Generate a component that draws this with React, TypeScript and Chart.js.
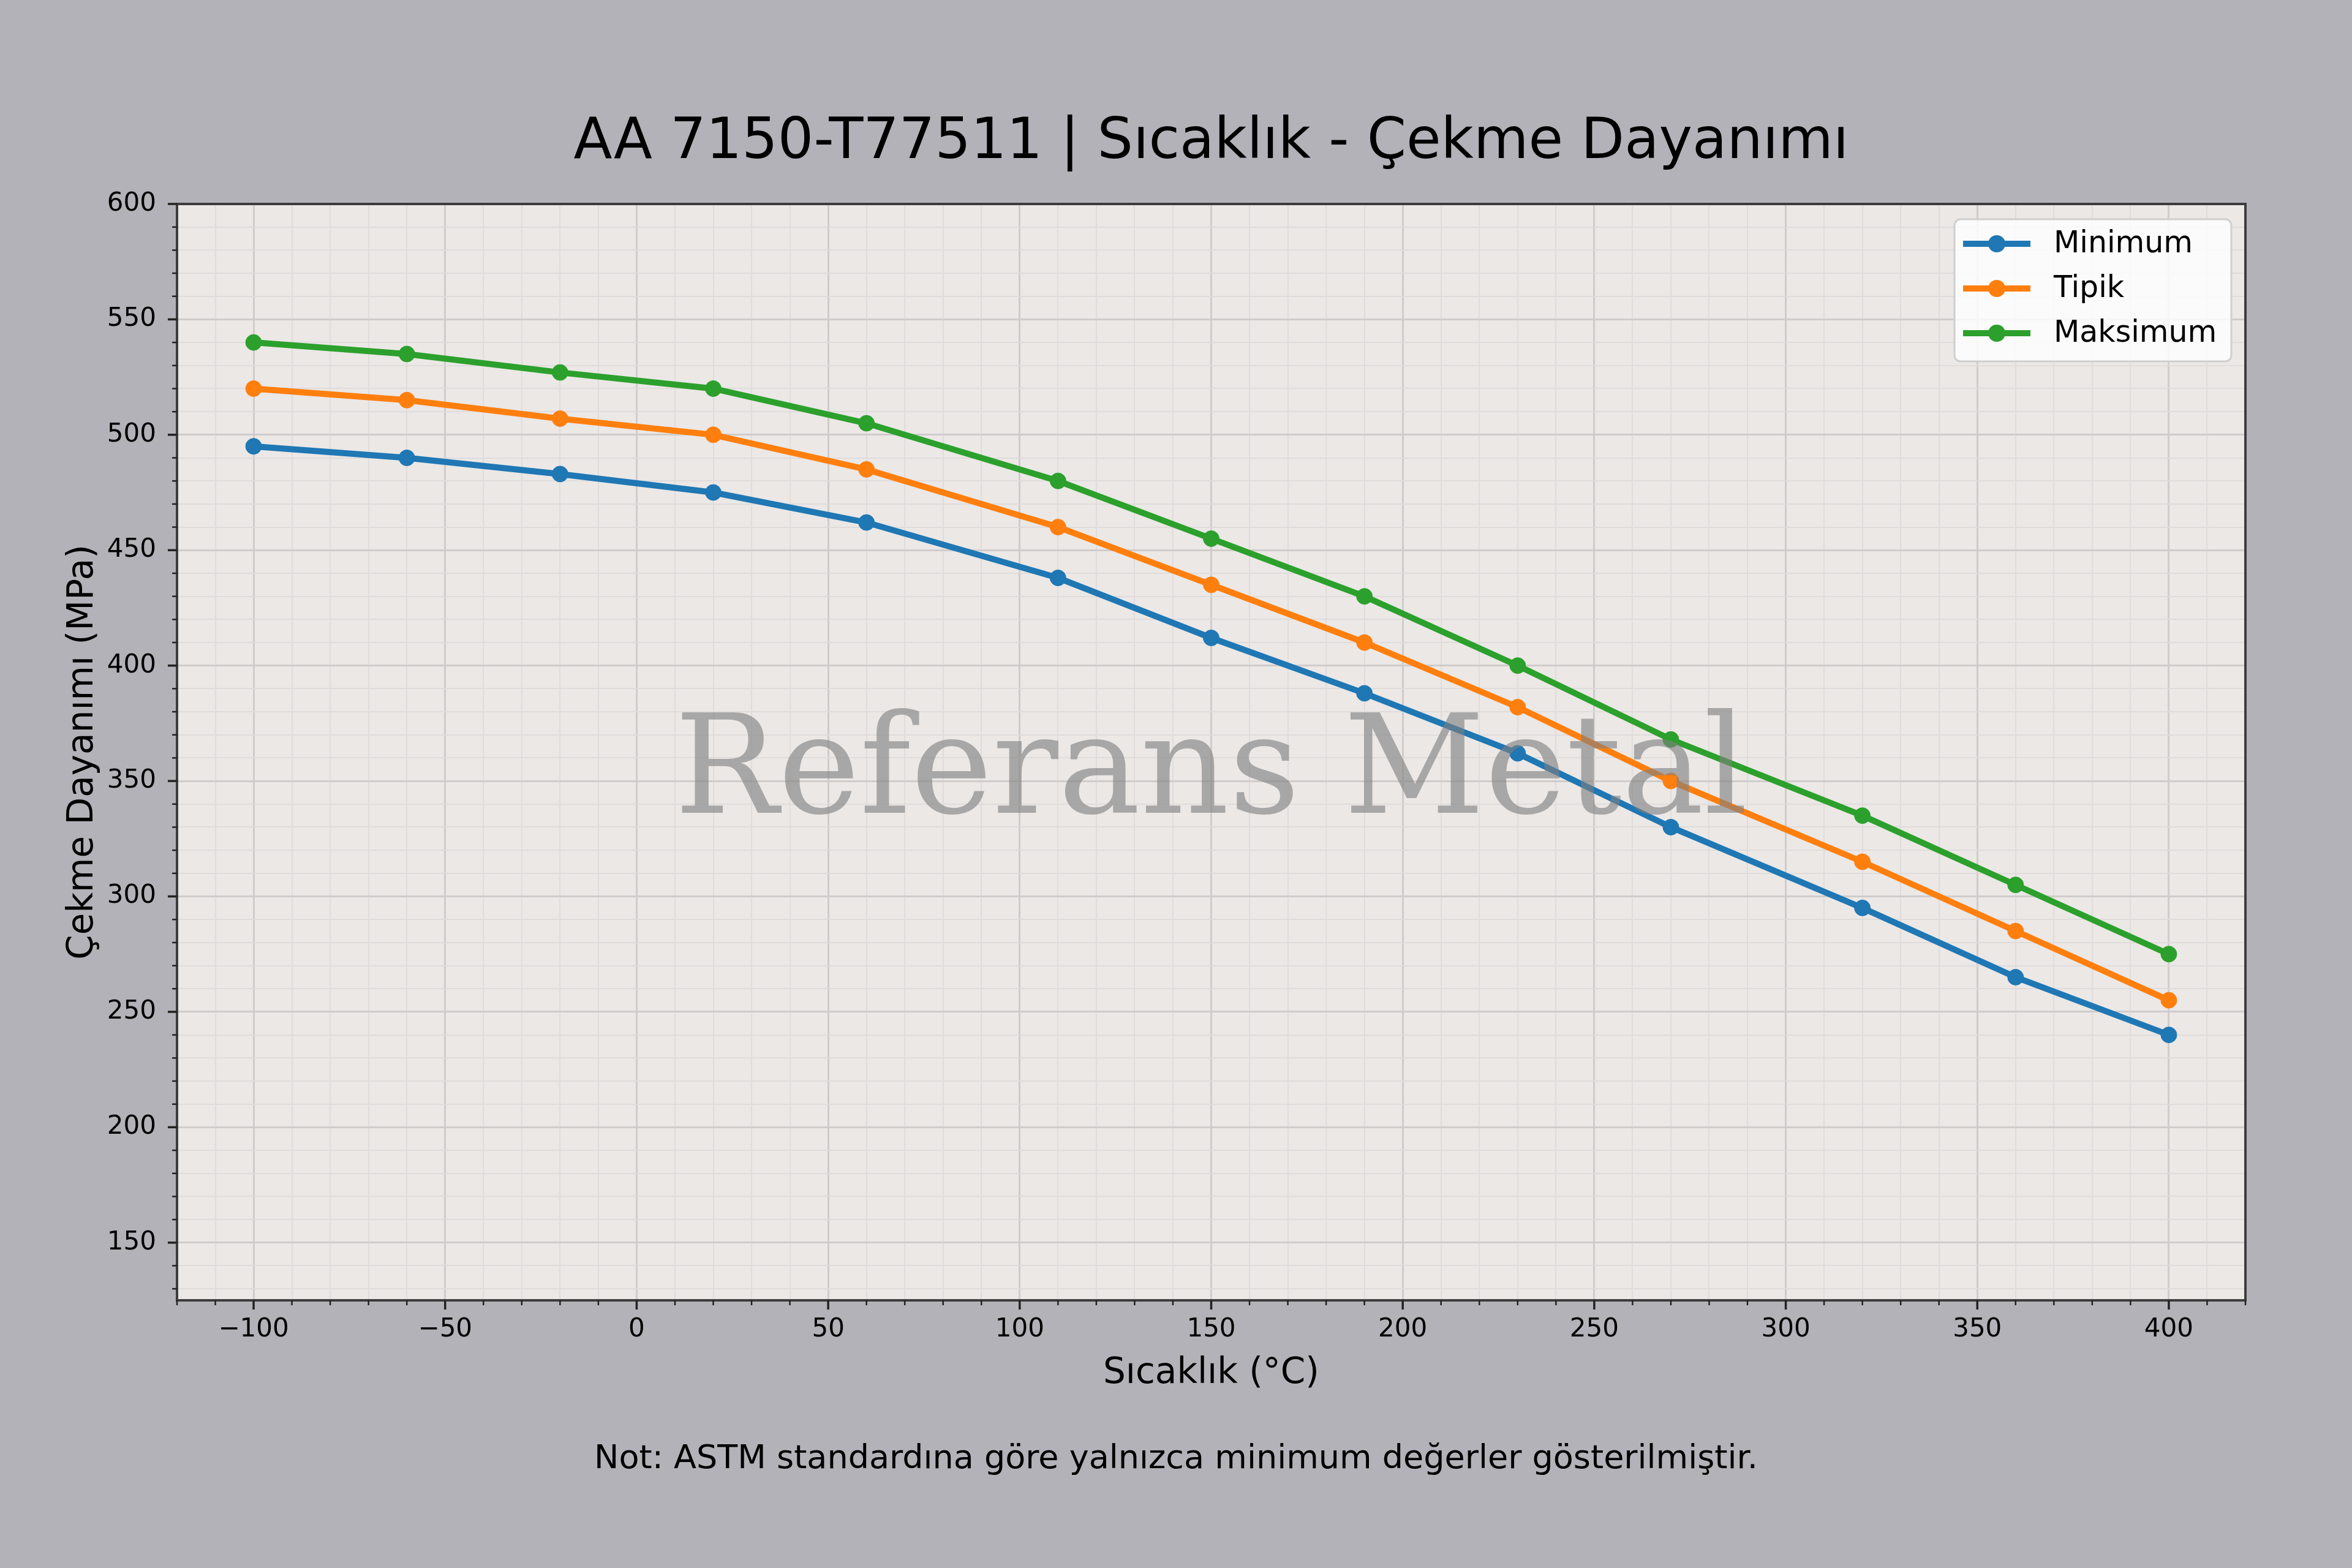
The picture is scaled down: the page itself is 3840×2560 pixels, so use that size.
import React, { useEffect, useRef } from 'react';
import { Chart, registerables } from 'chart.js';

Chart.register(...registerables);

// temperatures (°C) and tensile strength values (MPa)
const temperatures = [-100, -60, -20, 20, 60, 110, 150, 190, 230, 270, 320, 360, 400];
const minimumValues = [495, 490, 483, 475, 462, 438, 412, 388, 362, 330, 295, 265, 240];
const typicalValues = [520, 515, 507, 500, 485, 460, 435, 410, 382, 350, 315, 285, 255];
const maximumValues = [540, 535, 527, 520, 505, 480, 455, 430, 400, 368, 335, 305, 275];
const seriesLabels = ['Minimum', 'Tipik', 'Maksimum'];
const seriesColors = ['#1f77b4', '#ff7f0e', '#2ca02c'];

const chartTitle = 'AA 7150-T77511 | Sıcaklık - Çekme Dayanımı';
const xTitle = 'Sıcaklık (°C)';
const yTitle = 'Çekme Dayanımı (MPa)';
const footnote = 'Not: ASTM standardına göre yalnızca minimum değerler gösterilmiştir.';
const watermark = 'Referans Metal';

const FONT = '"DejaVu Sans", sans-serif';
const MAJOR_GRID = '#d0cccb';
const MINOR_GRID = '#e0dcdb';

const decorPlugin = {
   id: 'decor',
   beforeDraw(chart: any) {
      const { ctx, chartArea } = chart;
      ctx.save();
      ctx.fillStyle = '#b3b2b8';
      ctx.fillRect(0, 0, chart.width, chart.height);
      ctx.fillStyle = '#ebe8e6';
      ctx.fillRect(chartArea.left, chartArea.top, chartArea.right - chartArea.left, chartArea.bottom - chartArea.top);
      ctx.restore();
   },
   afterDatasetsDraw(chart: any) {
      const { ctx, chartArea } = chart;
      const { left, right, top, bottom } = chartArea;
      ctx.save();
      // watermark over the lines
      ctx.font = '225px "DejaVu Serif", serif';
      ctx.fillStyle = 'rgba(128,128,128,0.62)';
      ctx.textAlign = 'center';
      ctx.textBaseline = 'alphabetic';
      ctx.fillText(watermark, (left + right) / 2, 1327);

      // spines
      ctx.strokeStyle = '#3d3d3d';
      ctx.lineWidth = 4;
      ctx.strokeRect(left, top, right - left, bottom - top);

      // tick marks (major every 50, minor every 10)
      ctx.strokeStyle = '#222';
      const xs = chart.scales.x;
      xs.ticks.forEach((t: any) => {
         const px = xs.getPixelForValue(t.value);
         if (px < left - 1 || px > right + 1) return;
         const major = t.value % 50 === 0;
         ctx.lineWidth = major ? 3.5 : 2.5;
         ctx.beginPath();
         ctx.moveTo(px, bottom);
         ctx.lineTo(px, bottom + (major ? 15 : 8));
         ctx.stroke();
      });
      const ys = chart.scales.y;
      ys.ticks.forEach((t: any) => {
         const py = ys.getPixelForValue(t.value);
         if (py < top - 1 || py > bottom + 1) return;
         const major = t.value % 50 === 0;
         ctx.lineWidth = major ? 3.5 : 2.5;
         ctx.beginPath();
         ctx.moveTo(left, py);
         ctx.lineTo(left - (major ? 15 : 8), py);
         ctx.stroke();
      });
      ctx.restore();
   },
   afterDraw(chart: any) {
      const { ctx, chartArea } = chart;
      const cx = (chartArea.left + chartArea.right) / 2;
      const cy = (chartArea.top + chartArea.bottom) / 2;
      ctx.save();
      ctx.fillStyle = '#000';
      ctx.textAlign = 'center';
      ctx.textBaseline = 'alphabetic';

      ctx.font = `92px ${FONT}`;
      ctx.fillText(chartTitle, cx, 258);

      ctx.font = `58px ${FONT}`;
      ctx.fillText(xTitle, cx, 2258);

      ctx.save();
      ctx.translate(151, cy);
      ctx.rotate(-Math.PI / 2);
      ctx.fillText(yTitle, 0, 0);
      ctx.restore();

      ctx.font = `54px ${FONT}`;
      ctx.fillText(footnote, chart.width / 2, 2397);

      // legend
      const box = { x: 3191, y: 358, w: 452, h: 232 };
      ctx.beginPath();
      ctx.roundRect(box.x, box.y, box.w, box.h, 10);
      ctx.fillStyle = 'rgba(255,255,255,0.82)';
      ctx.fill();
      ctx.strokeStyle = '#cfcfcf';
      ctx.lineWidth = 3;
      ctx.stroke();

      const rows = [398, 471, 544];
      chart.data.datasets.forEach((ds: any, i: number) => {
         const y = rows[i];
         ctx.strokeStyle = ds.borderColor;
         ctx.lineWidth = 10;
         ctx.beginPath();
         ctx.moveTo(3205, y);
         ctx.lineTo(3315, y);
         ctx.stroke();
         ctx.fillStyle = ds.borderColor;
         ctx.beginPath();
         ctx.arc(3260, y, 14, 0, Math.PI * 2);
         ctx.fill();
         ctx.fillStyle = '#000';
         ctx.textAlign = 'left';
         ctx.textBaseline = 'middle';
         ctx.font = `49px ${FONT}`;
         ctx.fillText(ds.label, 3353, y + 1);
      });
      ctx.restore();
   },
};

const App = () => {
   const canvasRef = useRef<HTMLCanvasElement | null>(null);

   useEffect(() => {
      if (!canvasRef.current) return;
      const seriesData = [minimumValues, typicalValues, maximumValues];
      const datasets = seriesData.map((values, i) => ({
         label: seriesLabels[i],
         data: temperatures.map((t, j) => ({ x: t, y: values[j] })),
         borderColor: seriesColors[i],
         backgroundColor: seriesColors[i],
         pointBackgroundColor: seriesColors[i],
         pointBorderColor: seriesColors[i],
         borderWidth: 10,
         pointRadius: 13,
         pointBorderWidth: 1,
         tension: 0,
         fill: false,
      }));

      const gridColor = (c: any) => (c.tick && c.tick.value % 50 === 0 ? MAJOR_GRID : MINOR_GRID);
      const gridWidth = (c: any) => (c.tick && c.tick.value % 50 === 0 ? 3 : 2);
      const tickLabel = (v: any) => (Number(v) % 50 === 0 ? String(v).replace('-', '\u2212') : '');

      const chart = new Chart(canvasRef.current, {
         type: 'line',
         data: { datasets },
         plugins: [decorPlugin],
         options: {
            animation: false,
            responsive: false,
            devicePixelRatio: 1,
            layout: { padding: { top: 333, right: 174, bottom: 0, left: 0 } },
            plugins: {
               legend: { display: false },
               tooltip: { enabled: false },
               title: { display: false },
            },
            scales: {
               x: {
                  type: 'linear',
                  min: -120,
                  max: 420,
                  afterFit: (scale: any) => {
                     scale.height = 437;
                  },
                  border: { display: false },
                  grid: { color: gridColor, lineWidth: gridWidth, drawTicks: false },
                  ticks: {
                     stepSize: 10,
                     autoSkip: false,
                     includeBounds: false,
                     maxRotation: 0,
                     padding: 23,
                     color: '#000',
                     font: { family: FONT, size: 42 },
                     callback: tickLabel,
                  },
               },
               y: {
                  type: 'linear',
                  min: 125,
                  max: 600,
                  afterFit: (scale: any) => {
                     scale.width = 289;
                  },
                  border: { display: false },
                  grid: { color: gridColor, lineWidth: gridWidth, drawTicks: false },
                  ticks: {
                     stepSize: 10,
                     autoSkip: false,
                     includeBounds: false,
                     padding: 34,
                     color: '#000',
                     font: { family: FONT, size: 42 },
                     callback: tickLabel,
                  },
               },
            },
         } as any,
      });

      return () => {
         chart.destroy();
      };
   }, []);

   return (
      <div style={{ position: 'absolute', left: 0, top: 0, width: 3840, height: 2560, background: '#b3b2b8' }}>
         <canvas ref={canvasRef} width='3840' height='2560' style={{ display: 'block' }} />
      </div>
   );
};

export default App;
